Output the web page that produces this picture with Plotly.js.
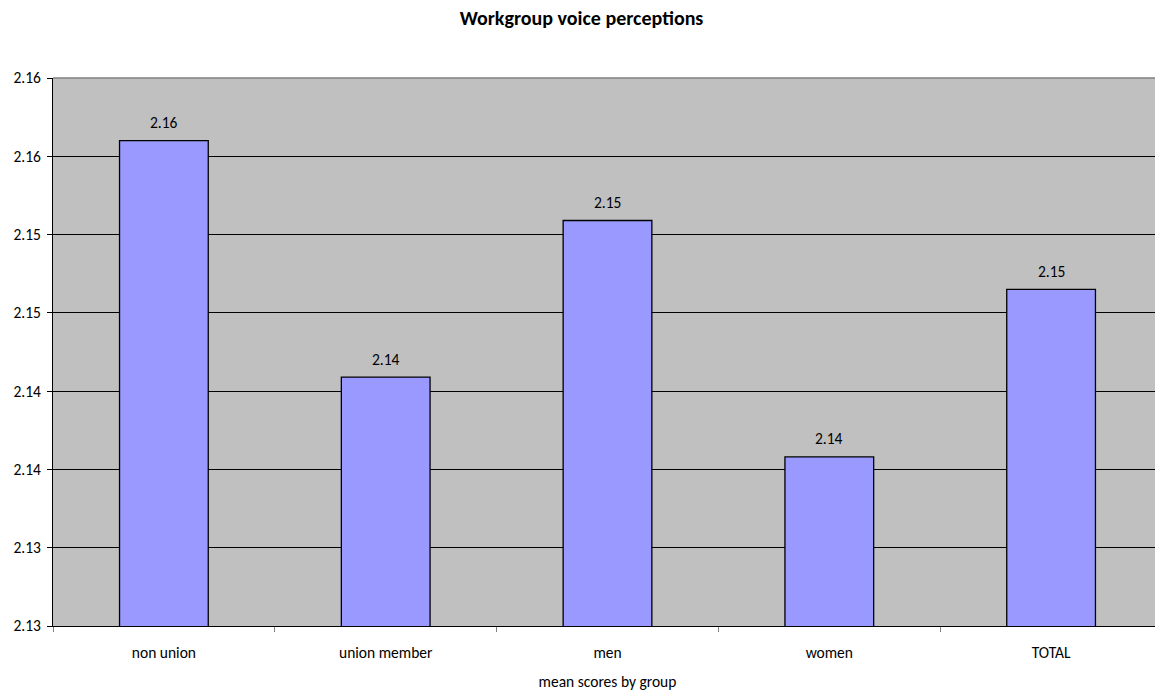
<!DOCTYPE html>
<html>
<head>
<meta charset="utf-8">
<script src="https://cdn.plot.ly/plotly-3.0.1.min.js"></script>
<style>
  html, body { margin: 0; padding: 0; overflow: hidden; background: #fff; }
  #chart { width: 1163px; height: 691px; }
</style>
</head>
<body>
<div id="chart"></div>
<script>
// Mean workgroup voice scores for each group
const groups = ["non union", "union member", "men", "women", "TOTAL"];
const meanScores = [2.1585, 2.1434, 2.1534, 2.1383, 2.1490];

// Value-axis settings
const yMin = 2.1275;
const yMax = 2.1625;
const yStep = 0.005;

const FONT = "Carlito, Lato, 'Liberation Sans', sans-serif";

const trace = {
  type: "bar",
  x: groups,
  y: meanScores,
  marker: { color: "#9999FF", line: { color: "#000000", width: 1.3 } },
  hoverinfo: "x+y"
};

// Value labels placed above each bar, formatted to two decimals
const valueLabels = groups.map((g, i) => ({
  x: g,
  y: meanScores[i],
  xref: "x",
  yref: "y",
  text: meanScores[i].toFixed(2),
  showarrow: false,
  yanchor: "middle",
  yshift: 18,
  font: { family: FONT, size: 15.5, color: "#000000" }
}));

const layout = {
  width: 1163,
  height: 691,
  margin: { l: 53, r: 1, t: 78, b: 65 },
  paper_bgcolor: "#ffffff",
  plot_bgcolor: "#C0C0C0",
  bargap: 0.6,
  showlegend: false,
  title: {
    text: "<b>Workgroup voice perceptions</b>",
    font: { family: FONT, size: 20, color: "#000000" },
    x: 0.5, xanchor: "center",
    y: 1 - 18 / 691, yref: "container", yanchor: "middle"
  },
  xaxis: {
    type: "category",
    automargin: false,
    tickson: "boundaries",
    ticks: "outside",
    ticklen: 5,
    tickcolor: "#808080",
    tickwidth: 1,
    showline: true,
    linecolor: "#000000",
    linewidth: 1,
    showgrid: false,
    tickfont: { family: FONT, size: 15.5, color: "#000000" },
    ticklabelstandoff: 12,
    title: {
      text: "mean scores by group",
      font: { family: FONT, size: 15.5, color: "#000000" },
      standoff: 16
    }
  },
  yaxis: {
    automargin: false,
    range: [yMin, yMax],
    tick0: yMin,
    dtick: yStep,
    tickformat: ".2f",
    ticks: "outside",
    ticklen: 5,
    tickcolor: "#000000",
    tickwidth: 1,
    showline: true,
    linecolor: "#000000",
    linewidth: 1,
    showgrid: true,
    gridcolor: "#000000",
    gridwidth: 1,
    zeroline: false,
    tickfont: { family: FONT, size: 15.5, color: "#000000" },
    ticklabelstandoff: 3
  },
  annotations: valueLabels,
  shapes: [
    {
      type: "line", xref: "paper", yref: "paper",
      x0: 0, x1: 1, y0: 1, y1: 1,
      line: { color: "#808080", width: 1.5 }
    }
  ]
};

Plotly.newPlot("chart", [trace], layout, { displayModeBar: false, staticPlot: true });
</script>
</body>
</html>
